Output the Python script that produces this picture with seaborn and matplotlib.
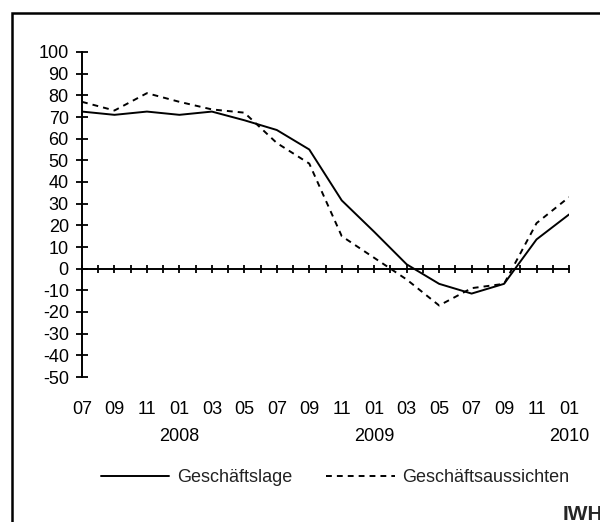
import matplotlib
matplotlib.use('Agg')
import matplotlib.pyplot as plt
from matplotlib.patches import Rectangle
import seaborn as sns
import pandas as pd

# ------------------------------------------------
# DATEN
# ------------------------------------------------
perioden = ['07/2007', '09/2007', '11/2007', '01/2008', '03/2008', '05/2008',
            '07/2008', '09/2008', '11/2008', '01/2009', '03/2009', '05/2009',
            '07/2009', '09/2009', '11/2009', '01/2010']
geschaeftslage = [72.5, 71, 72.5, 71, 72.5, 68.5, 64, 55, 31.5, 17, 2,
                  -7, -11.5, -7, 13.5, 25]
aussichten = [77, 73, 81, 77, 73.5, 72, 58, 48.5, 15, 5, -5,
              -17, -9, -7, 21, 33]
jahre = ['2008', '2009', '2010']
jahr_perioden = ['01/2008', '01/2009', '01/2010']
y_ticks = [-50, -40, -30, -20, -10, 0, 10, 20, 30, 40, 50, 60, 70, 80, 90, 100]


def monat_index(p):
    m, j = p.split('/')
    return (int(j) - 2007) * 12 + int(m) - 7


x = [monat_index(p) for p in perioden]
df = pd.DataFrame({
    'monat': x * 2,
    'wert': geschaeftslage + aussichten,
    'serie': ['Geschäftslage'] * len(x) + ['Geschäftsaussichten'] * len(x),
})

# ------------------------------------------------
# GRAFIK
# ------------------------------------------------
sns.set_style('white')
plt.rcParams['font.family'] = ['Liberation Sans', 'DejaVu Sans']
FS = 13

fig = plt.figure(figsize=(6, 5.22), dpi=100)
ax = fig.add_axes([82 / 600, 1 - 377 / 522, 487 / 600, 325 / 522])

sns.lineplot(data=df, x='monat', y='wert', style='serie', color='black',
             dashes={'Geschäftslage': '', 'Geschäftsaussichten': (3, 2.6)},
             linewidth=1.4, legend=False, ax=ax)
for ln in ax.lines:
    ln.set_dash_capstyle('butt')

ax.set_xlim(0, 30)
ax.set_ylim(-50, 100)
ax.set_xlabel('')
ax.set_ylabel('')

for s in ['top', 'right']:
    ax.spines[s].set_visible(False)
ax.spines['bottom'].set_position(('data', 0))
for s in ['left', 'bottom']:
    ax.spines[s].set_linewidth(1.4)
    ax.spines[s].set_color('black')

ax.set_yticks(y_ticks)
ax.set_yticklabels([str(v) for v in y_ticks])
ax.tick_params(axis='y', direction='inout', length=8, width=1.3,
               pad=5.5, labelsize=FS, colors='black', left=True)
ax.set_xticks(list(range(0, 31)))
ax.tick_params(axis='x', direction='inout', length=6, width=1.3,
               labelbottom=False, bottom=True, colors='black')

# Monatsbeschriftung
sec = ax.secondary_xaxis(0.0)
sec.set_xticks(x)
sec.set_xticklabels([p[:2] for p in perioden])
sec.spines['bottom'].set_visible(False)
sec.tick_params(length=0, pad=17, labelsize=FS, colors='black')

# Jahresbeschriftung
sec2 = ax.secondary_xaxis(0.0)
sec2.set_xticks([monat_index(p) for p in jahr_perioden])
sec2.set_xticklabels(jahre)
sec2.spines['bottom'].set_visible(False)
sec2.tick_params(length=0, pad=36.5, labelsize=FS, colors='black')

# Legende
fig.legend(ax.lines[:2], ['Geschäftslage', 'Geschäftsaussichten'],
           loc='center', bbox_to_anchor=(335 / 600, 1 - 478 / 522), ncol=2,
           frameon=False, fontsize=FS, handlelength=3.8,
           handletextpad=0.4, columnspacing=1.9, labelcolor='#222222')

fig.text(563 / 600, 1 - 514 / 522, 'IWH', fontsize=15, fontweight='bold',
         ha='left', va='center')

# Rahmen
fig.add_artist(Rectangle((12 / 600, -0.2), 2, (1 - 13 / 522) + 0.2,
                         transform=fig.transFigure, fill=False,
                         lw=1.8, ec='black'))

fig.savefig('out.png', dpi=100)
